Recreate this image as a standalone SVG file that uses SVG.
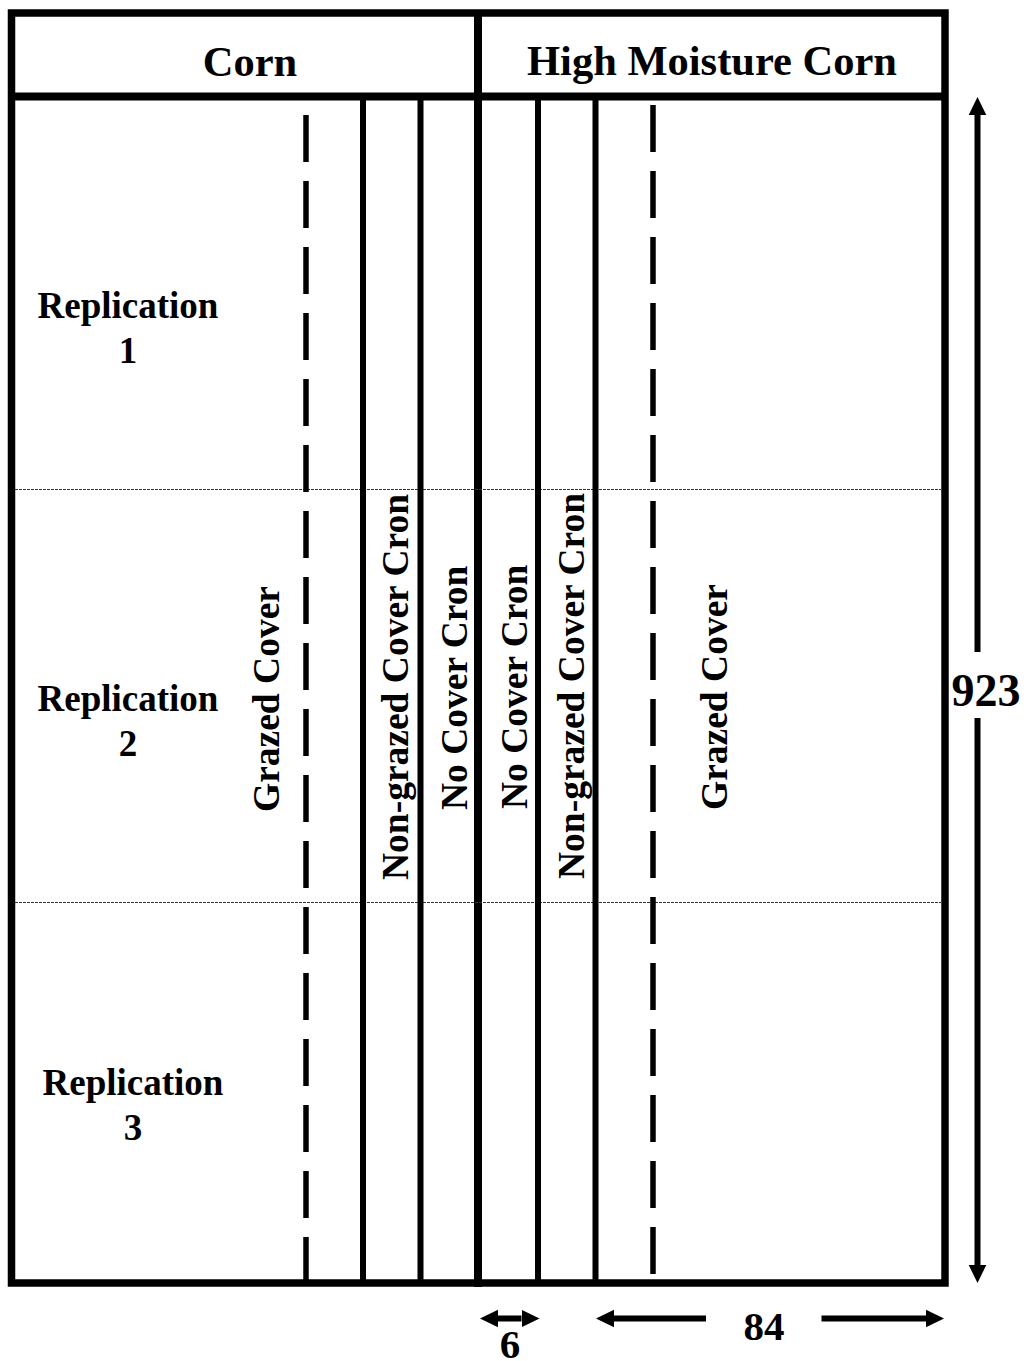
<svg xmlns="http://www.w3.org/2000/svg" width="1024" height="1361" viewBox="0 0 1024 1361">
  <style>
    .lbl { font-family: "Liberation Serif", "Times New Roman", serif; font-weight: bold; fill: #000; }
    .head { font-size: 42.5px; text-anchor: middle; }
    .rep { font-size: 37px; text-anchor: middle; }
    .strip { font-size: 37.5px; text-anchor: start; }
    .dim { font-size: 41px; text-anchor: middle; }
    .dim-big { font-size: 46px; }
    .frame { fill: none; stroke: #000; stroke-width: 7.5; }
    .divider { stroke: #000; stroke-width: 8; }
    .plot { stroke: #000; stroke-width: 6; }
    .grazed { stroke: #000; stroke-width: 5.5; stroke-dasharray: 47 19; }
    .rep-line { stroke: #333; stroke-width: 1; stroke-dasharray: 3 1; }
    .dimline { stroke: #000; stroke-width: 6; fill: none; }
  </style>
  <defs>
    <marker id="arrow" markerUnits="userSpaceOnUse" markerWidth="20" markerHeight="20" refX="0" refY="10" orient="auto-start-reverse" viewBox="0 0 20 20">
      <path d="M0,1.2 L18,10 L0,18.8 z" fill="#000"/>
    </marker>
  </defs>

  <rect width="1024" height="1361" fill="#fff"/>

  <!-- field outline and header band -->
  <g id="field">
    <rect class="frame" x="11.5" y="13" width="933.5" height="1270"/>
    <line class="divider" x1="11.5" y1="96.5" x2="945" y2="96.5"/>
    <line class="divider" x1="478" y1="13" x2="478" y2="1287"/>
  </g>

  <!-- replication boundaries -->
  <g id="replications">
    <line class="rep-line" x1="15" y1="489.5" x2="941" y2="489.5"/>
    <line class="rep-line" x1="15" y1="902.5" x2="941" y2="902.5"/>
  </g>

  <!-- plot boundaries -->
  <g id="plots">
    <line class="grazed" x1="306" y1="115" x2="306" y2="1283"/>
    <line class="plot" x1="363" y1="100" x2="363" y2="1283"/>
    <line class="plot" x1="420.5" y1="100" x2="420.5" y2="1283"/>
    <line class="plot" x1="538" y1="100" x2="538" y2="1283"/>
    <line class="plot" x1="595.5" y1="100" x2="595.5" y2="1283"/>
    <line class="grazed" x1="653" y1="105" x2="653" y2="1280"/>
  </g>

  <!-- treatment headers -->
  <g id="hdr-corn"><text class="lbl head" x="250" y="76">Corn</text></g>
  <g id="hdr-hmc"><text class="lbl head" x="712" y="75">High Moisture Corn</text></g>

  <!-- replication labels -->
  <g id="rep-1">
    <text class="lbl rep" x="128" y="318">Replication</text>
    <text class="lbl rep" x="128" y="363">1</text>
  </g>
  <g id="rep-2">
    <text class="lbl rep" x="128" y="711">Replication</text>
    <text class="lbl rep" x="128" y="756">2</text>
  </g>
  <g id="rep-3">
    <text class="lbl rep" x="133" y="1095">Replication</text>
    <text class="lbl rep" x="133" y="1140">3</text>
  </g>

  <!-- strip labels, reading upward -->
  <g id="strip-corn-grazed"><text class="lbl strip" transform="translate(279,812) rotate(-90)">Grazed Cover</text></g>
  <g id="strip-corn-nongrazed"><text class="lbl strip" transform="translate(408,880) rotate(-90)">Non-grazed Cover Cron</text></g>
  <g id="strip-corn-nocover"><text class="lbl strip" transform="translate(466.5,810) rotate(-90)">No Cover Cron</text></g>
  <g id="strip-hmc-nocover"><text class="lbl strip" transform="translate(526.5,809) rotate(-90)">No Cover Cron</text></g>
  <g id="strip-hmc-nongrazed"><text class="lbl strip" transform="translate(584,879) rotate(-90)">Non-grazed Cover Cron</text></g>
  <g id="strip-hmc-grazed"><text class="lbl strip" transform="translate(727,810) rotate(-90)">Grazed Cover</text></g>

  <!-- dimension arrows -->
  <g id="connectors">
    <line class="dimline" x1="977.5" y1="652" x2="977.5" y2="115" marker-end="url(#arrow)"/>
    <line class="dimline" x1="977.5" y1="718" x2="977.5" y2="1265" marker-end="url(#arrow)"/>
    <line class="dimline" x1="498" y1="1318.5" x2="521.5" y2="1318.5" marker-start="url(#arrow)" marker-end="url(#arrow)"/>
    <line class="dimline" x1="706" y1="1318.5" x2="614" y2="1318.5" marker-end="url(#arrow)"/>
    <line class="dimline" x1="821.5" y1="1318.5" x2="926" y2="1318.5" marker-end="url(#arrow)"/>
  </g>

  <!-- dimension values -->
  <g id="dim-923"><text class="lbl dim dim-big" x="986" y="706">923</text></g>
  <g id="dim-6"><text class="lbl dim" x="510" y="1358">6</text></g>
  <g id="dim-84"><text class="lbl dim" x="764" y="1340">84</text></g>
</svg>
